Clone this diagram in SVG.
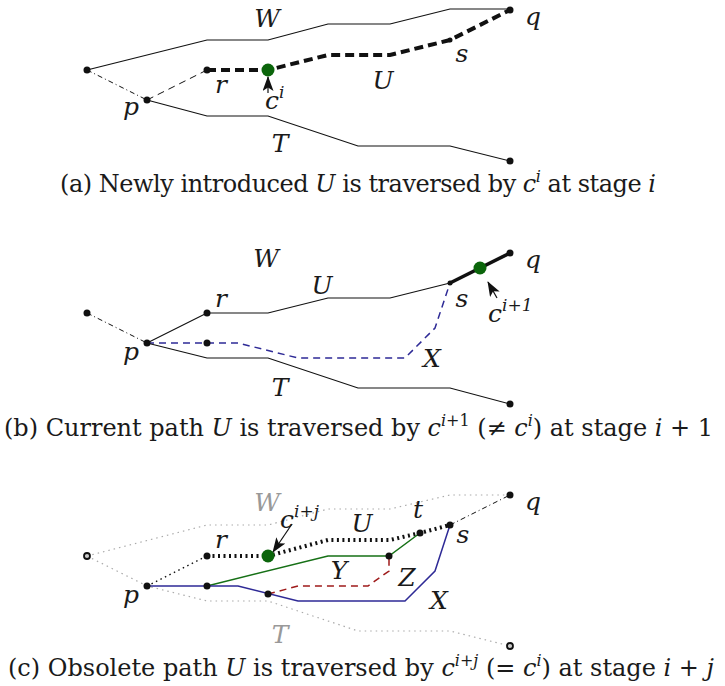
<svg xmlns="http://www.w3.org/2000/svg" width="725" height="686" viewBox="0 0 725 686">
<defs>
<style>
.lbl{font-family:"DejaVu Serif",serif;font-style:italic;font-size:25px;fill:#1a1a1a}
.sup{font-size:17px}
.gray{fill:#999}
.cap{font-family:"DejaVu Serif",serif;font-size:24px;fill:#1a1a1a}
.it{font-style:italic}
.ln{fill:none;stroke:#111;stroke-width:1.2;stroke-linejoin:miter}
.dd{fill:none;stroke:#111;stroke-width:1;stroke-dasharray:5 3 1 3}
.dsh{fill:none;stroke:#111;stroke-width:1;stroke-dasharray:7 5}
.thk{fill:none;stroke:#111;stroke-width:4;stroke-dasharray:9 5}
.thkdot{fill:none;stroke:#111;stroke-width:4;stroke-dasharray:2 3.5}
.dot{fill:none;stroke:#111;stroke-width:1.4;stroke-dasharray:1.5 3.5}
.gdot{fill:none;stroke:#aaa;stroke-width:1.2;stroke-dasharray:1.5 4}
.blue{fill:none;stroke:#2e2a96;stroke-width:1.5}
.bluedsh{fill:none;stroke:#2e2a96;stroke-width:1.5;stroke-dasharray:7 5}
.green{fill:none;stroke:#167016;stroke-width:1.5}
.red{fill:none;stroke:#9e1a1a;stroke-width:1.5;stroke-dasharray:7 5}
.n{fill:#111}
.ring{fill:#ccc;stroke:#111;stroke-width:1.8}
.gn{fill:#0b650b}
</style>
<marker id="ah" viewBox="0 0 15 11" refX="14" refY="5.5" markerWidth="15" markerHeight="11" markerUnits="userSpaceOnUse" orient="auto">
<path d="M0,0 L15,5.5 L0,11 L3.5,5.5 z" fill="#111"/>
</marker>
</defs>

<!-- ===== Panel (a) ===== -->
<g id="connectors-a">
<polyline class="ln" points="87,70 207,40 268,40 328,24 390,24 450,9 510,9"/>
<line class="dd" x1="87" y1="70" x2="147" y2="100"/>
<line class="dsh" x1="147" y1="100" x2="207" y2="70"/>
<polyline class="thk" points="207,70 268,70 328,55 390,55 450,40 510,10"/>
<polyline class="ln" points="147,100 207,116 268,116 358,146 450,146 510,161"/>
<line class="ln" x1="268" y1="93" x2="268" y2="77" marker-end="url(#ah)"/>
</g>
<g id="a-left"><circle class="n" cx="87" cy="70" r="3.5"/></g>
<g id="a-p"><circle class="n" cx="147" cy="100" r="3.5"/><text class="lbl" x="131" y="115" text-anchor="middle">p</text></g>
<g id="a-r"><circle class="n" cx="207" cy="70" r="3.5"/><text class="lbl" x="221" y="93" text-anchor="middle">r</text></g>
<g id="a-c"><circle class="gn" cx="268" cy="70" r="6.5"/><text class="lbl" x="265" y="109">c<tspan class="sup" dy="-11">i</tspan></text></g>
<g id="a-s"><circle class="n" cx="450" cy="40" r="2.5"/><text class="lbl" x="462" y="62" text-anchor="middle">s</text></g>
<g id="a-q"><circle class="n" cx="510" cy="10" r="3.5"/><text class="lbl" x="533" y="25" text-anchor="middle">q</text></g>
<g id="a-t"><circle class="n" cx="510" cy="161" r="3.5"/></g>
<g id="a-labels">
<text class="lbl" x="267" y="27" text-anchor="middle">W</text>
<text class="lbl" x="383" y="89" text-anchor="middle">U</text>
<text class="lbl" x="280" y="152" text-anchor="middle">T</text>
</g>
<text class="cap" x="60" y="192" textLength="596">(a) Newly introduced <tspan class="it">U</tspan> is traversed by <tspan class="it">c</tspan><tspan class="it" font-size="16" dy="-10">i</tspan><tspan dy="10"> at stage </tspan><tspan class="it">i</tspan></text>

<!-- ===== Panel (b) ===== -->
<g id="connectors-b">
<line class="dd" x1="87" y1="313" x2="147" y2="343"/>
<line class="ln" x1="147" y1="343" x2="207" y2="313"/>
<polyline class="ln" points="207,313 268,313 328,298 390,298 450,283"/>
<line fill="none" stroke="#111" stroke-width="3.5" x1="450" y1="283" x2="510" y2="253"/>
<polyline class="bluedsh" points="147,343 238,343 298,358 405,358 435,328 450,283"/>
<polyline class="ln" points="147,343 207,358 268,358 358,388 450,388 510,404"/>
<line class="ln" x1="497" y1="298" x2="488" y2="282" marker-end="url(#ah)"/>
</g>
<g id="b-left"><circle class="n" cx="87" cy="313" r="3.5"/></g>
<g id="b-p"><circle class="n" cx="147" cy="343" r="3.5"/><text class="lbl" x="131" y="360" text-anchor="middle">p</text></g>
<g id="b-r"><circle class="n" cx="207" cy="313" r="3.5"/><text class="lbl" x="221" y="307" text-anchor="middle">r</text></g>
<g id="b-x1"><circle class="n" cx="207" cy="343" r="3.5"/></g>
<g id="b-s"><circle class="n" cx="450" cy="283" r="2.5"/><text class="lbl" x="462" y="307" text-anchor="middle">s</text></g>
<g id="b-c"><circle class="gn" cx="480" cy="268" r="6.5"/><text class="lbl" x="488" y="322">c<tspan class="sup" dy="-11">i+1</tspan></text></g>
<g id="b-q"><circle class="n" cx="510" cy="253" r="3.5"/><text class="lbl" x="533" y="268" text-anchor="middle">q</text></g>
<g id="b-t"><circle class="n" cx="510" cy="404" r="3.5"/></g>
<g id="b-labels">
<text class="lbl" x="266" y="267" text-anchor="middle">W</text>
<text class="lbl" x="322" y="294" text-anchor="middle">U</text>
<text class="lbl" x="432" y="367" text-anchor="middle">X</text>
<text class="lbl" x="280" y="396" text-anchor="middle">T</text>
</g>
<text class="cap" x="4" y="436" textLength="709">(b) Current path <tspan class="it">U</tspan> is traversed by <tspan class="it">c</tspan><tspan class="it" font-size="16" dy="-10">i</tspan><tspan font-size="16">+1</tspan><tspan dy="10"> (≠ </tspan><tspan class="it">c</tspan><tspan class="it" font-size="16" dy="-10">i</tspan><tspan dy="10">) at stage </tspan><tspan class="it">i</tspan> + 1</text>

<!-- ===== Panel (c) ===== -->
<g id="connectors-c">
<polyline class="gdot" points="87,556 207,525 268,525 328,509 390,509 450,495 510,495"/>
<polyline class="gdot" points="87,556 147,586 207,601 268,601 358,631 450,631 510,646"/>
<line class="dot" x1="147" y1="586" x2="207" y2="556"/>
<polyline class="thkdot" points="207,556 268,556 328,540 390,540 420,533 450,525"/>
<line class="dd" x1="450" y1="525" x2="510" y2="495"/>
<polyline class="green" points="207,586 328,556 389,556 420,533"/>
<polyline class="red" points="268,594 298,586 368,586 389,571 389,556"/>
<polyline class="blue" points="147,586 238,586 298,601 405,601 435,571 450,525"/>
<line class="ln" x1="292" y1="524" x2="273" y2="552" marker-end="url(#ah)"/>
</g>
<g id="c-left"><circle class="ring" cx="87" cy="556" r="3"/></g>
<g id="c-p"><circle class="n" cx="147" cy="586" r="3.5"/><text class="lbl" x="131" y="603" text-anchor="middle">p</text></g>
<g id="c-r"><circle class="n" cx="207" cy="556" r="3.5"/><text class="lbl" x="221" y="548" text-anchor="middle">r</text></g>
<g id="c-x1"><circle class="n" cx="207" cy="586" r="3.5"/></g>
<g id="c-x2"><circle class="n" cx="268" cy="594" r="3.5"/></g>
<g id="c-y"><circle class="n" cx="389" cy="556" r="3.5"/></g>
<g id="c-t"><circle class="n" cx="420" cy="533" r="3.5"/><text class="lbl" x="418" y="518" text-anchor="middle">t</text></g>
<g id="c-s"><circle class="n" cx="450" cy="525" r="3.5"/><text class="lbl" x="463" y="543" text-anchor="middle">s</text></g>
<g id="c-q"><circle class="n" cx="510" cy="495" r="3.5"/><text class="lbl" x="533" y="510" text-anchor="middle">q</text></g>
<g id="c-tend"><circle class="ring" cx="510" cy="646" r="3"/></g>
<g id="c-c"><circle class="gn" cx="268" cy="556" r="6.5"/><text class="lbl" x="280" y="528">c<tspan class="sup" dy="-11">i+j</tspan></text></g>
<g id="c-labels">
<text class="lbl gray" x="267" y="511" text-anchor="middle">W</text>
<text class="lbl" x="362" y="532" text-anchor="middle">U</text>
<text class="lbl" x="339" y="579" text-anchor="middle">Y</text>
<text class="lbl" x="407" y="586" text-anchor="middle">Z</text>
<text class="lbl" x="439" y="609" text-anchor="middle">X</text>
<text class="lbl gray" x="280" y="643" text-anchor="middle">T</text>
</g>
<text class="cap" x="8" y="676" textLength="706">(c) Obsolete path <tspan class="it">U</tspan> is traversed by <tspan class="it">c</tspan><tspan class="it" font-size="16" dy="-10">i</tspan><tspan font-size="16">+</tspan><tspan class="it" font-size="16">j</tspan><tspan dy="10"> (= </tspan><tspan class="it">c</tspan><tspan class="it" font-size="16" dy="-10">i</tspan><tspan dy="10">) at stage </tspan><tspan class="it">i</tspan> + <tspan class="it">j</tspan></text>
</svg>
